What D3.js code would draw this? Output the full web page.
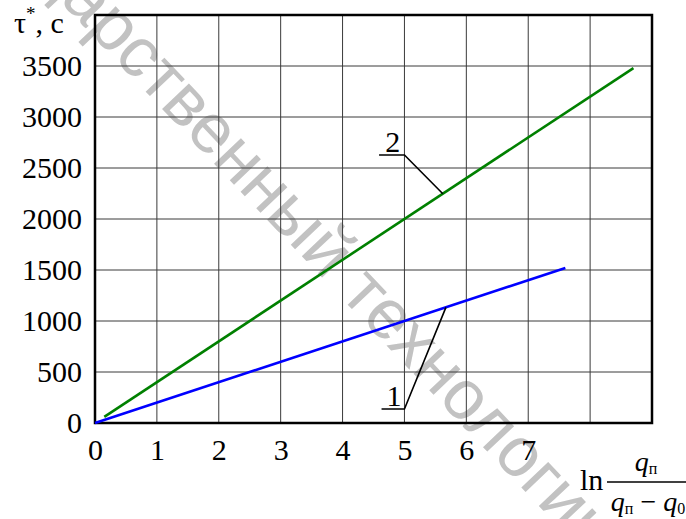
<!DOCTYPE html>
<html>
<head>
<meta charset="utf-8">
<script src="https://cdn.jsdelivr.net/npm/d3@7"></script>
<style>
  body { margin: 0; background: #fff; }
  svg { display: block; }
</style>
</head>
<body>
<svg id="chart" width="686" height="519"></svg>
<script>
// ---- data ----
const xTickLabels = [0, 1, 2, 3, 4, 5, 6, 7];
const xGridValues = [1, 2, 3, 4, 5, 6, 7, 8];
const yTickLabels = [0, 500, 1000, 1500, 2000, 2500, 3000, 3500];
const yGridValues = [500, 1000, 1500, 2000, 2500, 3000, 3500];

// curve 1 (blue) and curve 2 (green): ln-argument vs. time τ*, s
const curve1X = [0, 7.6];
const curve1Tau = [0, 1520];
const curve2X = [0.15, 8.7];
const curve2Tau = [60, 3480];

// leader callouts: label, shelf start x, shelf end x, shelf τ, target x, target τ
const calloutLabels = ["1", "2"];
const calloutShelfX0 = [4.63, 4.59];
const calloutShelfX1 = [5.0, 5.0];
const calloutShelfTau = [137, 2627];
const calloutTargetX = [5.67, 5.62];
const calloutTargetTau = [1134, 2248];

const watermarkText = "государственный технологический университет";

// ---- layout ----
const svg = d3.select("#chart");
const SERIF = '"Liberation Serif"';
const SANS = '"Liberation Sans"';

const x = d3.scaleLinear().domain([0, 9]).range([95, 652]);
const y = d3.scaleLinear().domain([0, 4000]).range([423, 15]);

// watermark underneath everything
svg.append("text")
  .attr("transform", "translate(-59,-124) rotate(46.5)")
  .style("font-family", SANS)
  .attr("font-size", 70)
  .attr("fill", "#c2c2c2")
  .text(watermarkText);

// grid
const grid = svg.append("g").attr("stroke", "#3a3a3a").attr("stroke-width", 1);
grid.selectAll("line.vx").data(xGridValues).join("line")
  .attr("x1", d => x(d)).attr("x2", d => x(d))
  .attr("y1", y(0)).attr("y2", y(4000));
grid.selectAll("line.hy").data(yGridValues).join("line")
  .attr("x1", x(0)).attr("x2", x(9))
  .attr("y1", d => y(d)).attr("y2", d => y(d));

// frame
svg.append("rect")
  .attr("x", x(0)).attr("y", y(4000))
  .attr("width", x(9) - x(0)).attr("height", y(0) - y(4000))
  .attr("fill", "none").attr("stroke", "#000").attr("stroke-width", 2.5);

// axes (labels only)
const yAxis = svg.append("g")
  .attr("transform", `translate(${x(0)},0)`)
  .call(d3.axisLeft(y).tickValues(yTickLabels).tickSize(0).tickPadding(13).tickFormat(d3.format("d")));
yAxis.select(".domain").remove();
yAxis.attr("font-family", null).attr("font-size", null);
yAxis.selectAll("text").style("font-family", SERIF).attr("font-size", 30).attr("fill", "#000");

const xAxis = svg.append("g")
  .attr("transform", `translate(0,${y(0)})`)
  .call(d3.axisBottom(x).tickValues(xTickLabels).tickSize(0).tickPadding(16).tickFormat(d3.format("d")));
xAxis.select(".domain").remove();
xAxis.attr("font-family", null).attr("font-size", null);
xAxis.selectAll("text").style("font-family", SERIF).attr("font-size", 30).attr("fill", "#000");

// curves
const line = d3.line().x(d => x(d[0])).y(d => y(d[1]));
svg.append("path")
  .datum(curve2X.map((v, i) => [v, curve2Tau[i]]))
  .attr("d", line).attr("fill", "none").attr("stroke", "#008000").attr("stroke-width", 2.6);
svg.append("path")
  .datum(curve1X.map((v, i) => [v, curve1Tau[i]]))
  .attr("d", line).attr("fill", "none").attr("stroke", "#0000ff").attr("stroke-width", 2.6);

// callouts
calloutLabels.forEach((lab, i) => {
  const pts = [
    [calloutShelfX0[i], calloutShelfTau[i]],
    [calloutShelfX1[i], calloutShelfTau[i]],
    [calloutTargetX[i], calloutTargetTau[i]]
  ];
  svg.append("path").attr("d", line(pts))
    .attr("fill", "none").attr("stroke", "#000").attr("stroke-width", 1.6);
  svg.append("text")
    .style("font-family", SERIF)
    .attr("x", (x(calloutShelfX0[i]) + x(calloutShelfX1[i])) / 2 + 1)
    .attr("y", y(calloutShelfTau[i]) - 3)
    .attr("text-anchor", "middle")
    .attr("font-size", 30)
    .text(lab);
});

// y-axis title  τ*, с
const yTitle = svg.append("text")
  .style("font-family", SERIF)
  .attr("x", 14).attr("y", 33)
  .attr("font-size", 30);
yTitle.append("tspan").text("τ");
yTitle.append("tspan").attr("font-size", 19).attr("dy", -13).text("*");
yTitle.append("tspan").attr("dy", 13).text(", с");

// x-axis title  ln q_п / (q_п − q_0)
svg.append("text")
  .style("font-family", SERIF)
  .attr("x", 580).attr("y", 490)
  .attr("font-size", 30)
  .text("ln");
svg.append("line")
  .attr("x1", 607).attr("x2", 690).attr("y1", 482).attr("y2", 482)
  .attr("stroke", "#000").attr("stroke-width", 1.5);

const num = svg.append("text")
  .style("font-family", SERIF)
  .attr("x", 646).attr("y", 471).attr("text-anchor", "middle")
  .attr("font-size", 28);
num.append("tspan").attr("font-style", "italic").text("q");
num.append("tspan").attr("font-size", 16).attr("dy", 3).text("п");

const den = svg.append("text")
  .style("font-family", SERIF)
  .attr("x", 648).attr("y", 511).attr("text-anchor", "middle")
  .attr("font-size", 28);
den.append("tspan").attr("font-style", "italic").text("q");
den.append("tspan").attr("font-size", 16).attr("dy", 3).text("п");
den.append("tspan").attr("dy", -3).text(" − ");
den.append("tspan").attr("font-style", "italic").text("q");
den.append("tspan").attr("font-size", 16).attr("dy", 3).text("0");
</script>
</body>
</html>
